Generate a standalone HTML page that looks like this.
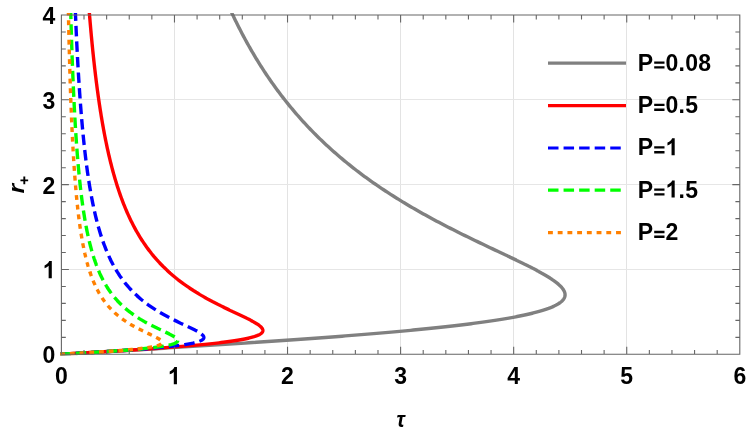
<!DOCTYPE html>
<html><head><meta charset="utf-8"><title>plot</title>
<style>
html,body{margin:0;padding:0;background:#fff;}
body{width:747px;height:434px;overflow:hidden;font-family:"Liberation Sans",sans-serif;}
svg{display:block;will-change:transform}
text{font-family:"Liberation Sans",sans-serif;font-weight:bold;fill:#000}
</style></head><body>
<svg width="747" height="434" viewBox="0 0 747 434">
<rect width="747" height="434" fill="#fff"/>
<defs><clipPath id="c"><rect x="59.9" y="13.1" width="681.4" height="342.1"/></clipPath></defs>

<path d="M174.5 15.0V354.3M287.5 15.0V354.3M400.5 15.0V354.3M513.5 15.0V354.3M626.5 15.0V354.3" stroke="#e3e3e3" stroke-width="1" fill="none"/>
<path d="M61.4 269.5H739.8M61.4 184.5H739.8M61.4 99.5H739.8" stroke="#e6e6e6" stroke-width="1" fill="none"/>
<g clip-path="url(#c)" fill="none" stroke-width="3.4" stroke-linejoin="round">
<path d="M60.18,354.37 L61.40,354.30 L65.72,354.04 L70.04,353.79 L74.35,353.53 L78.67,353.28 L82.98,353.02 L87.29,352.77 L91.60,352.51 L95.91,352.26 L100.21,352.00 L104.51,351.75 L108.80,351.49 L113.09,351.24 L117.37,350.98 L121.64,350.73 L125.91,350.47 L130.17,350.22 L134.43,349.96 L138.67,349.71 L142.91,349.45 L147.14,349.20 L151.36,348.94 L155.57,348.69 L159.77,348.43 L163.96,348.18 L168.14,347.92 L172.30,347.67 L176.46,347.41 L180.60,347.16 L184.73,346.90 L188.85,346.65 L192.95,346.39 L197.04,346.14 L201.12,345.88 L205.18,345.63 L209.22,345.37 L213.25,345.12 L217.26,344.86 L221.26,344.61 L225.24,344.35 L229.21,344.10 L233.15,343.84 L237.08,343.59 L240.99,343.33 L244.89,343.08 L248.76,342.82 L252.62,342.56 L256.45,342.31 L260.27,342.05 L264.07,341.80 L267.84,341.54 L271.60,341.29 L275.33,341.03 L279.05,340.78 L282.74,340.52 L286.41,340.27 L290.06,340.01 L293.69,339.76 L297.29,339.50 L300.87,339.25 L304.43,338.99 L307.97,338.74 L311.48,338.48 L314.97,338.23 L318.44,337.97 L321.88,337.72 L325.30,337.46 L328.69,337.21 L332.06,336.95 L335.40,336.70 L338.72,336.44 L342.02,336.19 L345.29,335.93 L348.53,335.68 L351.75,335.42 L354.94,335.17 L358.11,334.91 L361.25,334.66 L364.37,334.40 L367.46,334.15 L370.52,333.89 L373.56,333.64 L376.57,333.38 L379.56,333.13 L382.51,332.87 L385.45,332.62 L388.35,332.36 L391.23,332.11 L394.08,331.85 L396.91,331.59 L399.70,331.34 L402.48,331.08 L405.22,330.83 L407.94,330.57 L410.63,330.32 L413.29,330.06 L415.93,329.81 L418.54,329.55 L421.12,329.30 L423.68,329.04 L426.21,328.79 L428.71,328.53 L431.18,328.28 L433.63,328.02 L436.05,327.77 L438.45,327.51 L440.81,327.26 L443.15,327.00 L445.47,326.75 L447.75,326.49 L450.02,326.24 L452.25,325.98 L454.46,325.73 L456.64,325.47 L458.79,325.22 L460.92,324.96 L463.02,324.71 L465.10,324.45 L467.15,324.20 L469.17,323.94 L471.17,323.69 L473.15,323.43 L475.09,323.18 L477.01,322.92 L478.91,322.67 L480.78,322.41 L482.63,322.16 L484.45,321.90 L486.24,321.65 L488.01,321.39 L489.76,321.14 L491.48,320.88 L493.17,320.63 L494.85,320.37 L496.49,320.11 L498.12,319.86 L499.72,319.60 L501.29,319.35 L502.85,319.09 L504.37,318.84 L505.88,318.58 L507.36,318.33 L508.82,318.07 L510.25,317.82 L511.67,317.56 L513.06,317.31 L514.42,317.05 L515.77,316.80 L517.09,316.54 L518.39,316.29 L519.67,316.03 L520.93,315.78 L522.16,315.52 L523.38,315.27 L524.57,315.01 L525.74,314.76 L526.89,314.50 L528.02,314.25 L529.13,313.99 L530.21,313.74 L531.28,313.48 L532.33,313.23 L533.36,312.97 L534.36,312.72 L535.35,312.46 L536.32,312.21 L537.27,311.95 L538.20,311.70 L539.11,311.44 L540.00,311.19 L540.87,310.93 L541.73,310.68 L542.56,310.42 L543.38,310.17 L544.18,309.91 L544.96,309.66 L545.73,309.40 L546.47,309.15 L547.20,308.89 L547.91,308.63 L548.61,308.38 L549.29,308.12 L549.95,307.87 L550.59,307.61 L551.22,307.36 L551.83,307.10 L552.43,306.85 L553.01,306.59 L553.57,306.34 L554.12,306.08 L554.65,305.83 L555.17,305.57 L555.67,305.32 L556.16,305.06 L556.63,304.81 L557.09,304.55 L557.53,304.30 L557.96,304.04 L558.38,303.79 L558.78,303.53 L559.16,303.28 L559.54,303.02 L559.90,302.77 L560.24,302.51 L560.58,302.26 L560.89,302.00 L561.20,301.75 L561.49,301.49 L561.78,301.24 L562.04,300.98 L562.30,300.73 L562.54,300.47 L562.77,300.22 L562.99,299.96 L563.20,299.71 L563.40,299.45 L563.58,299.20 L563.75,298.94 L563.91,298.69 L564.06,298.43 L564.20,298.18 L564.33,297.92 L564.45,297.66 L564.56,297.41 L564.65,297.15 L564.74,296.90 L564.81,296.64 L564.88,296.39 L564.93,296.13 L564.98,295.88 L565.02,295.62 L565.04,295.37 L565.06,295.11 L565.06,294.86 L565.06,294.60 L565.05,294.35 L565.03,294.09 L565.00,293.84 L564.96,293.58 L564.92,293.33 L564.86,293.07 L564.80,292.82 L564.72,292.56 L564.64,292.31 L564.55,292.05 L564.46,291.80 L564.35,291.54 L564.24,291.29 L564.12,291.03 L563.99,290.78 L563.86,290.52 L563.71,290.27 L563.56,290.01 L563.41,289.76 L563.24,289.50 L563.07,289.25 L562.89,288.99 L562.71,288.74 L562.52,288.48 L562.32,288.23 L562.11,287.97 L561.90,287.72 L561.68,287.46 L561.46,287.21 L561.23,286.95 L560.99,286.70 L560.75,286.44 L560.50,286.18 L560.25,285.93 L559.99,285.67 L559.72,285.42 L559.45,285.16 L559.18,284.91 L558.89,284.65 L558.61,284.40 L558.32,284.14 L558.02,283.89 L557.72,283.63 L557.41,283.38 L557.10,283.12 L556.78,282.87 L556.46,282.61 L556.13,282.36 L555.80,282.10 L555.46,281.85 L555.12,281.59 L554.78,281.34 L554.43,281.08 L554.08,280.83 L553.72,280.57 L553.36,280.32 L552.99,280.06 L552.62,279.81 L552.25,279.55 L551.87,279.30 L551.49,279.04 L551.10,278.79 L550.72,278.53 L550.32,278.28 L549.93,278.02 L549.53,277.77 L549.13,277.51 L548.72,277.26 L548.31,277.00 L547.90,276.75 L547.48,276.49 L547.06,276.24 L546.64,275.98 L546.22,275.73 L545.79,275.47 L545.36,275.22 L544.92,274.96 L544.49,274.70 L544.05,274.45 L543.60,274.19 L543.16,273.94 L542.71,273.68 L542.26,273.43 L541.81,273.17 L541.35,272.92 L540.90,272.66 L540.44,272.41 L539.97,272.15 L539.51,271.90 L539.04,271.64 L538.58,271.39 L538.10,271.13 L537.63,270.88 L537.16,270.62 L536.68,270.37 L536.20,270.11 L535.72,269.86 L535.24,269.60 L534.75,269.35 L534.26,269.09 L533.78,268.84 L533.29,268.58 L532.79,268.33 L532.30,268.07 L531.81,267.82 L531.31,267.56 L530.81,267.31 L530.31,267.05 L529.81,266.80 L529.31,266.54 L528.80,266.29 L528.30,266.03 L527.79,265.78 L527.28,265.52 L526.77,265.27 L526.26,265.01 L525.75,264.76 L525.24,264.50 L524.72,264.25 L524.21,263.99 L523.69,263.73 L523.17,263.48 L522.66,263.22 L522.14,262.97 L521.62,262.71 L521.10,262.46 L520.57,262.20 L520.05,261.95 L519.53,261.69 L519.00,261.44 L518.48,261.18 L517.95,260.93 L517.42,260.67 L516.89,260.42 L516.37,260.16 L515.84,259.91 L515.31,259.65 L514.78,259.40 L514.24,259.14 L513.71,258.89 L513.18,258.63 L512.65,258.38 L512.11,258.12 L511.58,257.87 L511.05,257.61 L510.51,257.36 L509.98,257.10 L509.44,256.85 L508.90,256.59 L508.37,256.34 L507.83,256.08 L507.29,255.83 L506.76,255.57 L506.22,255.32 L505.68,255.06 L505.14,254.81 L504.61,254.55 L504.07,254.30 L503.53,254.04 L502.99,253.79 L502.45,253.53 L501.91,253.28 L501.37,253.02 L500.83,252.77 L500.29,252.51 L497.74,251.30 L495.19,250.10 L492.64,248.89 L490.09,247.68 L487.54,246.48 L485.01,245.27 L482.47,244.07 L479.95,242.86 L477.43,241.65 L474.93,240.45 L472.43,239.24 L469.95,238.03 L467.47,236.83 L465.01,235.62 L462.57,234.42 L460.13,233.21 L457.71,232.00 L455.31,230.80 L452.92,229.59 L450.54,228.38 L448.18,227.18 L445.84,225.97 L443.51,224.76 L441.20,223.56 L438.91,222.35 L436.64,221.15 L434.38,219.94 L432.13,218.73 L429.91,217.53 L427.70,216.32 L425.51,215.11 L423.34,213.91 L421.19,212.70 L419.05,211.50 L416.93,210.29 L414.83,209.08 L412.75,207.88 L410.69,206.67 L408.64,205.46 L406.61,204.26 L404.60,203.05 L402.60,201.85 L400.62,200.64 L398.67,199.43 L396.72,198.23 L394.80,197.02 L392.89,195.81 L391.00,194.61 L389.12,193.40 L387.27,192.19 L385.43,190.99 L383.60,189.78 L381.79,188.58 L380.00,187.37 L378.23,186.16 L376.47,184.96 L374.73,183.75 L373.00,182.54 L371.29,181.34 L369.59,180.13 L367.91,178.93 L366.24,177.72 L364.59,176.51 L362.96,175.31 L361.34,174.10 L359.73,172.89 L358.14,171.69 L356.57,170.48 L355.00,169.27 L353.45,168.07 L351.92,166.86 L350.40,165.66 L348.89,164.45 L347.40,163.24 L345.92,162.04 L344.45,160.83 L343.00,159.62 L341.56,158.42 L340.13,157.21 L338.72,156.01 L337.32,154.80 L335.93,153.59 L334.55,152.39 L333.18,151.18 L331.83,149.97 L330.49,148.77 L329.16,147.56 L327.84,146.36 L326.54,145.15 L325.24,143.94 L323.96,142.74 L322.69,141.53 L321.43,140.32 L320.18,139.12 L318.94,137.91 L317.71,136.70 L316.49,135.50 L315.28,134.29 L314.09,133.09 L312.90,131.88 L311.72,130.67 L310.56,129.47 L309.40,128.26 L308.25,127.05 L307.12,125.85 L305.99,124.64 L304.87,123.44 L303.76,122.23 L302.66,121.02 L301.57,119.82 L300.49,118.61 L299.42,117.40 L298.35,116.20 L297.30,114.99 L296.25,113.78 L295.21,112.58 L294.18,111.37 L293.16,110.17 L292.15,108.96 L291.15,107.75 L290.15,106.55 L289.16,105.34 L288.18,104.13 L287.21,102.93 L286.24,101.72 L285.29,100.52 L284.34,99.31 L283.40,98.10 L282.46,96.90 L281.53,95.69 L280.61,94.48 L279.70,93.28 L278.80,92.07 L277.90,90.87 L277.01,89.66 L276.12,88.45 L275.24,87.25 L274.37,86.04 L273.51,84.83 L272.65,83.63 L271.80,82.42 L270.95,81.21 L270.11,80.01 L269.28,78.80 L268.46,77.60 L267.64,76.39 L266.82,75.18 L266.01,73.98 L265.21,72.77 L264.42,71.56 L263.63,70.36 L262.84,69.15 L262.07,67.95 L261.29,66.74 L260.53,65.53 L259.77,64.33 L259.01,63.12 L258.26,61.91 L257.51,60.71 L256.77,59.50 L256.04,58.29 L255.31,57.09 L254.59,55.88 L253.87,54.68 L253.16,53.47 L252.45,52.26 L251.74,51.06 L251.04,49.85 L250.35,48.64 L249.66,47.44 L248.98,46.23 L248.30,45.03 L247.62,43.82 L246.95,42.61 L246.29,41.41 L245.63,40.20 L244.97,38.99 L244.32,37.79 L243.67,36.58 L243.03,35.38 L242.39,34.17 L241.76,32.96 L241.13,31.76 L240.50,30.55 L239.88,29.34 L239.26,28.14 L238.65,26.93 L238.04,25.72 L237.43,24.52 L236.83,23.31 L236.24,22.11 L235.64,20.90 L235.05,19.69 L234.47,18.49 L233.88,17.28 L233.31,16.07 L232.73,14.87 L232.16,13.66 L231.59,12.46" stroke="#808080"/>
<path d="M60.18,354.37 L61.40,354.30 L65.72,354.04 L70.03,353.79 L74.34,353.53 L78.64,353.28 L82.93,353.02 L87.20,352.77 L91.46,352.51 L95.70,352.26 L99.91,352.00 L104.09,351.75 L108.25,351.49 L112.38,351.24 L116.47,350.98 L120.53,350.73 L124.55,350.47 L128.52,350.22 L132.46,349.96 L136.34,349.71 L140.19,349.45 L143.98,349.20 L147.72,348.94 L151.40,348.69 L155.04,348.43 L158.61,348.18 L162.13,347.92 L165.59,347.67 L168.99,347.41 L172.33,347.16 L175.60,346.90 L178.82,346.65 L181.97,346.39 L185.05,346.14 L188.07,345.88 L191.02,345.63 L193.90,345.37 L196.72,345.12 L199.47,344.86 L202.16,344.61 L204.77,344.35 L207.32,344.10 L209.80,343.84 L212.22,343.59 L214.57,343.33 L216.85,343.08 L219.06,342.82 L221.21,342.56 L223.29,342.31 L225.31,342.05 L227.26,341.80 L229.15,341.54 L230.98,341.29 L232.74,341.03 L234.45,340.78 L236.09,340.52 L237.67,340.27 L239.19,340.01 L240.66,339.76 L242.06,339.50 L243.41,339.25 L244.71,338.99 L245.95,338.74 L247.14,338.48 L248.27,338.23 L249.35,337.97 L250.38,337.72 L251.37,337.46 L252.30,337.21 L253.19,336.95 L254.03,336.70 L254.83,336.44 L255.58,336.19 L256.28,335.93 L256.95,335.68 L257.57,335.42 L258.16,335.17 L258.70,334.91 L259.21,334.66 L259.68,334.40 L260.11,334.15 L260.51,333.89 L260.87,333.64 L261.20,333.38 L261.49,333.13 L261.76,332.87 L261.99,332.62 L262.20,332.36 L262.37,332.11 L262.52,331.85 L262.64,331.59 L262.74,331.34 L262.80,331.08 L262.85,330.83 L262.86,330.57 L262.86,330.32 L262.83,330.06 L262.78,329.81 L262.71,329.55 L262.62,329.30 L262.51,329.04 L262.38,328.79 L262.23,328.53 L262.07,328.28 L261.89,328.02 L261.68,327.77 L261.47,327.51 L261.24,327.26 L260.99,327.00 L260.73,326.75 L260.45,326.49 L260.17,326.24 L259.87,325.98 L259.55,325.73 L259.23,325.47 L258.89,325.22 L258.54,324.96 L258.18,324.71 L257.81,324.45 L257.44,324.20 L257.05,323.94 L256.65,323.69 L256.25,323.43 L255.83,323.18 L255.41,322.92 L254.98,322.67 L254.55,322.41 L254.10,322.16 L253.65,321.90 L253.20,321.65 L252.74,321.39 L252.27,321.14 L251.80,320.88 L251.32,320.63 L250.84,320.37 L250.35,320.11 L249.86,319.86 L249.36,319.60 L248.86,319.35 L248.36,319.09 L247.85,318.84 L247.35,318.58 L246.83,318.33 L246.32,318.07 L245.80,317.82 L245.28,317.56 L244.76,317.31 L244.23,317.05 L243.70,316.80 L243.17,316.54 L242.64,316.29 L242.11,316.03 L241.58,315.78 L241.04,315.52 L240.51,315.27 L239.97,315.01 L239.44,314.76 L238.90,314.50 L238.36,314.25 L237.82,313.99 L237.28,313.74 L236.74,313.48 L236.20,313.23 L235.66,312.97 L235.12,312.72 L234.58,312.46 L234.04,312.21 L233.50,311.95 L232.96,311.70 L232.43,311.44 L231.89,311.19 L231.35,310.93 L230.81,310.68 L230.28,310.42 L229.74,310.17 L229.21,309.91 L228.68,309.66 L228.14,309.40 L227.61,309.15 L227.08,308.89 L226.55,308.63 L226.03,308.38 L225.50,308.12 L224.97,307.87 L224.45,307.61 L223.93,307.36 L223.41,307.10 L222.89,306.85 L222.37,306.59 L221.85,306.34 L221.34,306.08 L220.82,305.83 L220.31,305.57 L219.80,305.32 L219.29,305.06 L218.78,304.81 L218.28,304.55 L217.77,304.30 L217.27,304.04 L216.77,303.79 L216.27,303.53 L215.78,303.28 L215.28,303.02 L214.79,302.77 L214.30,302.51 L213.81,302.26 L213.32,302.00 L212.83,301.75 L212.35,301.49 L211.87,301.24 L211.39,300.98 L210.91,300.73 L210.43,300.47 L209.96,300.22 L209.49,299.96 L209.02,299.71 L208.55,299.45 L208.08,299.20 L207.62,298.94 L207.15,298.69 L206.69,298.43 L206.23,298.18 L205.78,297.92 L205.32,297.66 L204.87,297.41 L204.42,297.15 L203.97,296.90 L203.52,296.64 L203.08,296.39 L202.64,296.13 L202.20,295.88 L201.76,295.62 L201.32,295.37 L200.89,295.11 L200.45,294.86 L200.02,294.60 L199.59,294.35 L199.17,294.09 L198.74,293.84 L198.32,293.58 L197.90,293.33 L197.48,293.07 L197.06,292.82 L196.65,292.56 L196.23,292.31 L195.82,292.05 L195.41,291.80 L195.00,291.54 L194.60,291.29 L194.20,291.03 L193.79,290.78 L193.39,290.52 L193.00,290.27 L192.60,290.01 L192.21,289.76 L191.81,289.50 L191.42,289.25 L191.03,288.99 L190.65,288.74 L190.26,288.48 L189.88,288.23 L189.50,287.97 L189.12,287.72 L188.74,287.46 L188.37,287.21 L187.99,286.95 L187.62,286.70 L187.25,286.44 L186.88,286.18 L186.51,285.93 L186.15,285.67 L185.79,285.42 L185.42,285.16 L185.06,284.91 L184.71,284.65 L184.35,284.40 L184.00,284.14 L183.64,283.89 L183.29,283.63 L182.94,283.38 L182.59,283.12 L182.25,282.87 L181.90,282.61 L181.56,282.36 L181.22,282.10 L180.88,281.85 L180.54,281.59 L180.21,281.34 L179.87,281.08 L179.54,280.83 L179.21,280.57 L178.88,280.32 L178.55,280.06 L178.22,279.81 L177.90,279.55 L177.57,279.30 L177.25,279.04 L176.93,278.79 L176.61,278.53 L176.29,278.28 L175.98,278.02 L175.66,277.77 L175.35,277.51 L175.04,277.26 L174.73,277.00 L174.42,276.75 L174.11,276.49 L173.81,276.24 L173.50,275.98 L173.20,275.73 L172.90,275.47 L172.60,275.22 L172.30,274.96 L172.00,274.70 L171.71,274.45 L171.41,274.19 L171.12,273.94 L170.83,273.68 L170.54,273.43 L170.25,273.17 L169.96,272.92 L169.68,272.66 L169.39,272.41 L169.11,272.15 L168.83,271.90 L168.55,271.64 L168.27,271.39 L167.99,271.13 L167.71,270.88 L167.44,270.62 L167.16,270.37 L166.89,270.11 L166.62,269.86 L166.35,269.60 L166.08,269.35 L165.81,269.09 L165.54,268.84 L165.28,268.58 L165.01,268.33 L164.75,268.07 L164.49,267.82 L164.23,267.56 L163.97,267.31 L163.71,267.05 L163.45,266.80 L163.20,266.54 L162.94,266.29 L162.69,266.03 L162.44,265.78 L162.19,265.52 L161.94,265.27 L161.69,265.01 L161.44,264.76 L161.19,264.50 L160.95,264.25 L160.70,263.99 L160.46,263.73 L160.22,263.48 L159.97,263.22 L159.73,262.97 L159.49,262.71 L159.26,262.46 L159.02,262.20 L158.78,261.95 L158.55,261.69 L158.31,261.44 L158.08,261.18 L157.85,260.93 L157.62,260.67 L157.39,260.42 L157.16,260.16 L156.93,259.91 L156.71,259.65 L156.48,259.40 L156.25,259.14 L156.03,258.89 L155.81,258.63 L155.59,258.38 L155.37,258.12 L155.15,257.87 L154.93,257.61 L154.71,257.36 L154.49,257.10 L154.27,256.85 L154.06,256.59 L153.85,256.34 L153.63,256.08 L153.42,255.83 L153.21,255.57 L153.00,255.32 L152.79,255.06 L152.58,254.81 L152.37,254.55 L152.16,254.30 L151.96,254.04 L151.75,253.79 L151.55,253.53 L151.34,253.28 L151.14,253.02 L150.94,252.77 L150.74,252.51 L149.80,251.30 L148.88,250.10 L147.97,248.89 L147.09,247.68 L146.22,246.48 L145.37,245.27 L144.53,244.07 L143.71,242.86 L142.90,241.65 L142.11,240.45 L141.33,239.24 L140.57,238.03 L139.82,236.83 L139.09,235.62 L138.37,234.42 L137.66,233.21 L136.96,232.00 L136.28,230.80 L135.60,229.59 L134.94,228.38 L134.29,227.18 L133.65,225.97 L133.02,224.76 L132.40,223.56 L131.80,222.35 L131.20,221.15 L130.61,219.94 L130.03,218.73 L129.46,217.53 L128.90,216.32 L128.35,215.11 L127.81,213.91 L127.27,212.70 L126.75,211.50 L126.23,210.29 L125.72,209.08 L125.21,207.88 L124.72,206.67 L124.23,205.46 L123.75,204.26 L123.28,203.05 L122.81,201.85 L122.35,200.64 L121.90,199.43 L121.45,198.23 L121.01,197.02 L120.58,195.81 L120.15,194.61 L119.73,193.40 L119.32,192.19 L118.91,190.99 L118.50,189.78 L118.10,188.58 L117.71,187.37 L117.32,186.16 L116.94,184.96 L116.56,183.75 L116.19,182.54 L115.82,181.34 L115.46,180.13 L115.10,178.93 L114.75,177.72 L114.40,176.51 L114.05,175.31 L113.71,174.10 L113.37,172.89 L113.04,171.69 L112.72,170.48 L112.39,169.27 L112.07,168.07 L111.76,166.86 L111.44,165.66 L111.14,164.45 L110.83,163.24 L110.53,162.04 L110.23,160.83 L109.94,159.62 L109.65,158.42 L109.36,157.21 L109.08,156.01 L108.80,154.80 L108.52,153.59 L108.25,152.39 L107.98,151.18 L107.71,149.97 L107.45,148.77 L107.18,147.56 L106.93,146.36 L106.67,145.15 L106.42,143.94 L106.17,142.74 L105.92,141.53 L105.67,140.32 L105.43,139.12 L105.19,137.91 L104.96,136.70 L104.72,135.50 L104.49,134.29 L104.26,133.09 L104.03,131.88 L103.81,130.67 L103.58,129.47 L103.36,128.26 L103.15,127.05 L102.93,125.85 L102.72,124.64 L102.51,123.44 L102.30,122.23 L102.09,121.02 L101.88,119.82 L101.68,118.61 L101.48,117.40 L101.28,116.20 L101.08,114.99 L100.89,113.78 L100.70,112.58 L100.50,111.37 L100.32,110.17 L100.13,108.96 L99.94,107.75 L99.76,106.55 L99.57,105.34 L99.39,104.13 L99.22,102.93 L99.04,101.72 L98.86,100.52 L98.69,99.31 L98.52,98.10 L98.34,96.90 L98.17,95.69 L98.01,94.48 L97.84,93.28 L97.68,92.07 L97.51,90.87 L97.35,89.66 L97.19,88.45 L97.03,87.25 L96.87,86.04 L96.72,84.83 L96.56,83.63 L96.41,82.42 L96.26,81.21 L96.10,80.01 L95.95,78.80 L95.81,77.60 L95.66,76.39 L95.51,75.18 L95.37,73.98 L95.23,72.77 L95.08,71.56 L94.94,70.36 L94.80,69.15 L94.66,67.95 L94.53,66.74 L94.39,65.53 L94.25,64.33 L94.12,63.12 L93.99,61.91 L93.85,60.71 L93.72,59.50 L93.59,58.29 L93.46,57.09 L93.34,55.88 L93.21,54.68 L93.08,53.47 L92.96,52.26 L92.83,51.06 L92.71,49.85 L92.59,48.64 L92.47,47.44 L92.35,46.23 L92.23,45.03 L92.11,43.82 L91.99,42.61 L91.88,41.41 L91.76,40.20 L91.65,38.99 L91.53,37.79 L91.42,36.58 L91.31,35.38 L91.19,34.17 L91.08,32.96 L90.97,31.76 L90.87,30.55 L90.76,29.34 L90.65,28.14 L90.54,26.93 L90.44,25.72 L90.33,24.52 L90.23,23.31 L90.12,22.11 L90.02,20.90 L89.92,19.69 L89.82,18.49 L89.72,17.28 L89.62,16.07 L89.52,14.87 L89.42,13.66 L89.32,12.46" stroke="#ff0000"/>
<path d="M60.18,354.37 L61.40,354.30 L65.72,354.04 L70.03,353.79 L74.33,353.53 L78.61,353.28 L82.87,353.02 L87.10,352.77 L91.29,352.51 L95.45,352.26 L99.56,352.00 L103.62,351.75 L107.62,351.49 L111.56,351.24 L115.44,350.98 L119.25,350.73 L122.99,350.47 L126.66,350.22 L130.24,349.96 L133.75,349.71 L137.17,349.45 L140.50,349.20 L143.75,348.94 L146.90,348.69 L149.96,348.43 L152.93,348.18 L155.81,347.92 L158.59,347.67 L161.27,347.41 L163.86,347.16 L166.36,346.90 L168.76,346.65 L171.06,346.39 L173.27,346.14 L175.39,345.88 L177.42,345.63 L179.35,345.37 L181.20,345.12 L182.95,344.86 L184.62,344.61 L186.21,344.35 L187.71,344.10 L189.13,343.84 L190.47,343.59 L191.73,343.33 L192.92,343.08 L194.03,342.82 L195.07,342.56 L196.04,342.31 L196.94,342.05 L197.78,341.80 L198.55,341.54 L199.26,341.29 L199.92,341.03 L200.51,340.78 L201.05,340.52 L201.53,340.27 L201.97,340.01 L202.35,339.76 L202.68,339.50 L202.97,339.25 L203.22,338.99 L203.42,338.74 L203.58,338.48 L203.71,338.23 L203.79,337.97 L203.84,337.72 L203.86,337.46 L203.84,337.21 L203.79,336.95 L203.71,336.70 L203.61,336.44 L203.48,336.19 L203.32,335.93 L203.13,335.68 L202.92,335.42 L202.70,335.17 L202.44,334.91 L202.17,334.66 L201.88,334.40 L201.58,334.15 L201.25,333.89 L200.91,333.64 L200.56,333.38 L200.18,333.13 L199.80,332.87 L199.40,332.62 L199.00,332.36 L198.58,332.11 L198.15,331.85 L197.70,331.59 L197.25,331.34 L196.80,331.08 L196.33,330.83 L195.86,330.57 L195.37,330.32 L194.89,330.06 L194.39,329.81 L193.89,329.55 L193.39,329.30 L192.88,329.04 L192.37,328.79 L191.85,328.53 L191.33,328.28 L190.81,328.02 L190.28,327.77 L189.75,327.51 L189.22,327.26 L188.68,327.00 L188.15,326.75 L187.61,326.49 L187.08,326.24 L186.54,325.98 L186.00,325.73 L185.46,325.47 L184.92,325.22 L184.38,324.96 L183.84,324.71 L183.30,324.45 L182.76,324.20 L182.22,323.94 L181.69,323.69 L181.15,323.43 L180.61,323.18 L180.08,322.92 L179.55,322.67 L179.01,322.41 L178.48,322.16 L177.96,321.90 L177.43,321.65 L176.90,321.39 L176.38,321.14 L175.86,320.88 L175.34,320.63 L174.82,320.37 L174.31,320.11 L173.80,319.86 L173.29,319.60 L172.78,319.35 L172.27,319.09 L171.77,318.84 L171.27,318.58 L170.77,318.33 L170.27,318.07 L169.78,317.82 L169.29,317.56 L168.80,317.31 L168.32,317.05 L167.83,316.80 L167.35,316.54 L166.88,316.29 L166.40,316.03 L165.93,315.78 L165.46,315.52 L165.00,315.27 L164.53,315.01 L164.07,314.76 L163.61,314.50 L163.16,314.25 L162.71,313.99 L162.26,313.74 L161.81,313.48 L161.37,313.23 L160.93,312.97 L160.49,312.72 L160.05,312.46 L159.62,312.21 L159.19,311.95 L158.76,311.70 L158.34,311.44 L157.92,311.19 L157.50,310.93 L157.08,310.68 L156.67,310.42 L156.26,310.17 L155.85,309.91 L155.45,309.66 L155.04,309.40 L154.64,309.15 L154.25,308.89 L153.85,308.63 L153.46,308.38 L153.07,308.12 L152.69,307.87 L152.30,307.61 L151.92,307.36 L151.54,307.10 L151.17,306.85 L150.79,306.59 L150.42,306.34 L150.05,306.08 L149.69,305.83 L149.32,305.57 L148.96,305.32 L148.61,305.06 L148.25,304.81 L147.90,304.55 L147.54,304.30 L147.20,304.04 L146.85,303.79 L146.50,303.53 L146.16,303.28 L145.82,303.02 L145.49,302.77 L145.15,302.51 L144.82,302.26 L144.49,302.00 L144.16,301.75 L143.83,301.49 L143.51,301.24 L143.19,300.98 L142.87,300.73 L142.55,300.47 L142.24,300.22 L141.92,299.96 L141.61,299.71 L141.31,299.45 L141.00,299.20 L140.69,298.94 L140.39,298.69 L140.09,298.43 L139.79,298.18 L139.50,297.92 L139.20,297.66 L138.91,297.41 L138.62,297.15 L138.33,296.90 L138.04,296.64 L137.76,296.39 L137.47,296.13 L137.19,295.88 L136.91,295.62 L136.64,295.37 L136.36,295.11 L136.09,294.86 L135.82,294.60 L135.54,294.35 L135.28,294.09 L135.01,293.84 L134.74,293.58 L134.48,293.33 L134.22,293.07 L133.96,292.82 L133.70,292.56 L133.44,292.31 L133.19,292.05 L132.94,291.80 L132.68,291.54 L132.43,291.29 L132.19,291.03 L131.94,290.78 L131.69,290.52 L131.45,290.27 L131.21,290.01 L130.97,289.76 L130.73,289.50 L130.49,289.25 L130.25,288.99 L130.02,288.74 L129.79,288.48 L129.55,288.23 L129.32,287.97 L129.09,287.72 L128.87,287.46 L128.64,287.21 L128.42,286.95 L128.19,286.70 L127.97,286.44 L127.75,286.18 L127.53,285.93 L127.31,285.67 L127.10,285.42 L126.88,285.16 L126.67,284.91 L126.46,284.65 L126.24,284.40 L126.03,284.14 L125.83,283.89 L125.62,283.63 L125.41,283.38 L125.21,283.12 L125.00,282.87 L124.80,282.61 L124.60,282.36 L124.40,282.10 L124.20,281.85 L124.00,281.59 L123.80,281.34 L123.61,281.08 L123.41,280.83 L123.22,280.57 L123.03,280.32 L122.84,280.06 L122.65,279.81 L122.46,279.55 L122.27,279.30 L122.08,279.04 L121.90,278.79 L121.71,278.53 L121.53,278.28 L121.35,278.02 L121.17,277.77 L120.99,277.51 L120.81,277.26 L120.63,277.00 L120.45,276.75 L120.28,276.49 L120.10,276.24 L119.93,275.98 L119.75,275.73 L119.58,275.47 L119.41,275.22 L119.24,274.96 L119.07,274.70 L118.90,274.45 L118.73,274.19 L118.57,273.94 L118.40,273.68 L118.24,273.43 L118.07,273.17 L117.91,272.92 L117.75,272.66 L117.59,272.41 L117.42,272.15 L117.27,271.90 L117.11,271.64 L116.95,271.39 L116.79,271.13 L116.64,270.88 L116.48,270.62 L116.33,270.37 L116.17,270.11 L116.02,269.86 L115.87,269.60 L115.72,269.35 L115.57,269.09 L115.42,268.84 L115.27,268.58 L115.12,268.33 L114.97,268.07 L114.83,267.82 L114.68,267.56 L114.54,267.31 L114.39,267.05 L114.25,266.80 L114.10,266.54 L113.96,266.29 L113.82,266.03 L113.68,265.78 L113.54,265.52 L113.40,265.27 L113.26,265.01 L113.13,264.76 L112.99,264.50 L112.85,264.25 L112.72,263.99 L112.58,263.73 L112.45,263.48 L112.31,263.22 L112.18,262.97 L112.05,262.71 L111.92,262.46 L111.79,262.20 L111.66,261.95 L111.53,261.69 L111.40,261.44 L111.27,261.18 L111.14,260.93 L111.02,260.67 L110.89,260.42 L110.76,260.16 L110.64,259.91 L110.51,259.65 L110.39,259.40 L110.27,259.14 L110.14,258.89 L110.02,258.63 L109.90,258.38 L109.78,258.12 L109.66,257.87 L109.54,257.61 L109.42,257.36 L109.30,257.10 L109.18,256.85 L109.06,256.59 L108.95,256.34 L108.83,256.08 L108.72,255.83 L108.60,255.57 L108.49,255.32 L108.37,255.06 L108.26,254.81 L108.14,254.55 L108.03,254.30 L107.92,254.04 L107.81,253.79 L107.70,253.53 L107.59,253.28 L107.48,253.02 L107.37,252.77 L107.26,252.51 L106.75,251.30 L106.25,250.10 L105.76,248.89 L105.29,247.68 L104.82,246.48 L104.36,245.27 L103.91,244.07 L103.47,242.86 L103.04,241.65 L102.62,240.45 L102.20,239.24 L101.80,238.03 L101.40,236.83 L101.01,235.62 L100.63,234.42 L100.25,233.21 L99.88,232.00 L99.52,230.80 L99.16,229.59 L98.82,228.38 L98.47,227.18 L98.14,225.97 L97.81,224.76 L97.48,223.56 L97.16,222.35 L96.85,221.15 L96.54,219.94 L96.24,218.73 L95.94,217.53 L95.65,216.32 L95.36,215.11 L95.07,213.91 L94.79,212.70 L94.52,211.50 L94.25,210.29 L93.98,209.08 L93.72,207.88 L93.47,206.67 L93.21,205.46 L92.96,204.26 L92.72,203.05 L92.48,201.85 L92.24,200.64 L92.00,199.43 L91.77,198.23 L91.54,197.02 L91.32,195.81 L91.10,194.61 L90.88,193.40 L90.67,192.19 L90.46,190.99 L90.25,189.78 L90.04,188.58 L89.84,187.37 L89.64,186.16 L89.44,184.96 L89.25,183.75 L89.05,182.54 L88.87,181.34 L88.68,180.13 L88.49,178.93 L88.31,177.72 L88.13,176.51 L87.96,175.31 L87.78,174.10 L87.61,172.89 L87.44,171.69 L87.27,170.48 L87.11,169.27 L86.94,168.07 L86.78,166.86 L86.62,165.66 L86.46,164.45 L86.31,163.24 L86.15,162.04 L86.00,160.83 L85.85,159.62 L85.70,158.42 L85.56,157.21 L85.41,156.01 L85.27,154.80 L85.13,153.59 L84.99,152.39 L84.85,151.18 L84.71,149.97 L84.58,148.77 L84.44,147.56 L84.31,146.36 L84.18,145.15 L84.05,143.94 L83.92,142.74 L83.80,141.53 L83.67,140.32 L83.55,139.12 L83.43,137.91 L83.31,136.70 L83.19,135.50 L83.07,134.29 L82.95,133.09 L82.84,131.88 L82.72,130.67 L82.61,129.47 L82.50,128.26 L82.39,127.05 L82.28,125.85 L82.17,124.64 L82.06,123.44 L81.96,122.23 L81.85,121.02 L81.75,119.82 L81.64,118.61 L81.54,117.40 L81.44,116.20 L81.34,114.99 L81.24,113.78 L81.14,112.58 L81.05,111.37 L80.95,110.17 L80.85,108.96 L80.76,107.75 L80.67,106.55 L80.57,105.34 L80.48,104.13 L80.39,102.93 L80.30,101.72 L80.21,100.52 L80.12,99.31 L80.04,98.10 L79.95,96.90 L79.86,95.69 L79.78,94.48 L79.70,93.28 L79.61,92.07 L79.53,90.87 L79.45,89.66 L79.37,88.45 L79.29,87.25 L79.21,86.04 L79.13,84.83 L79.05,83.63 L78.97,82.42 L78.89,81.21 L78.82,80.01 L78.74,78.80 L78.67,77.60 L78.59,76.39 L78.52,75.18 L78.45,73.98 L78.37,72.77 L78.30,71.56 L78.23,70.36 L78.16,69.15 L78.09,67.95 L78.02,66.74 L77.95,65.53 L77.88,64.33 L77.81,63.12 L77.75,61.91 L77.68,60.71 L77.61,59.50 L77.55,58.29 L77.48,57.09 L77.42,55.88 L77.35,54.68 L77.29,53.47 L77.23,52.26 L77.17,51.06 L77.10,49.85 L77.04,48.64 L76.98,47.44 L76.92,46.23 L76.86,45.03 L76.80,43.82 L76.74,42.61 L76.68,41.41 L76.62,40.20 L76.57,38.99 L76.51,37.79 L76.45,36.58 L76.39,35.38 L76.34,34.17 L76.28,32.96 L76.23,31.76 L76.17,30.55 L76.12,29.34 L76.06,28.14 L76.01,26.93 L75.96,25.72 L75.90,24.52 L75.85,23.31 L75.80,22.11 L75.75,20.90 L75.70,19.69 L75.64,18.49 L75.59,17.28 L75.54,16.07 L75.49,14.87 L75.44,13.66 L75.39,12.46" stroke="#0000ff" stroke-dasharray="10.5 5.06" stroke-dashoffset="0.00"/>
<path d="M60.18,354.37 L61.40,354.30 L65.72,354.04 L70.03,353.79 L74.32,353.53 L78.58,353.28 L82.81,353.02 L86.99,352.77 L91.13,352.51 L95.20,352.26 L99.21,352.00 L103.15,351.75 L107.00,351.49 L110.77,351.24 L114.45,350.98 L118.03,350.73 L121.52,350.47 L124.90,350.22 L128.17,349.96 L131.33,349.71 L134.37,349.45 L137.31,349.20 L140.13,348.94 L142.83,348.69 L145.41,348.43 L147.88,348.18 L150.23,347.92 L152.47,347.67 L154.59,347.41 L156.60,347.16 L158.50,346.90 L160.29,346.65 L161.97,346.39 L163.55,346.14 L165.02,345.88 L166.40,345.63 L167.68,345.37 L168.87,345.12 L169.97,344.86 L170.98,344.61 L171.90,344.35 L172.75,344.10 L173.51,343.84 L174.20,343.59 L174.82,343.33 L175.37,343.08 L175.86,342.82 L176.28,342.56 L176.64,342.31 L176.95,342.05 L177.20,341.80 L177.39,341.54 L177.54,341.29 L177.64,341.03 L177.70,340.78 L177.72,340.52 L177.69,340.27 L177.63,340.01 L177.53,339.76 L177.40,339.50 L177.24,339.25 L177.04,338.99 L176.82,338.74 L176.58,338.48 L176.30,338.23 L176.01,337.97 L175.69,337.72 L175.36,337.46 L175.00,337.21 L174.63,336.95 L174.24,336.70 L173.84,336.44 L173.42,336.19 L172.99,335.93 L172.54,335.68 L172.09,335.42 L171.62,335.17 L171.15,334.91 L170.67,334.66 L170.18,334.40 L169.68,334.15 L169.18,333.89 L168.67,333.64 L168.15,333.38 L167.63,333.13 L167.11,332.87 L166.58,332.62 L166.05,332.36 L165.52,332.11 L164.99,331.85 L164.45,331.59 L163.91,331.34 L163.38,331.08 L162.84,330.83 L162.30,330.57 L161.76,330.32 L161.22,330.06 L160.68,329.81 L160.14,329.55 L159.60,329.30 L159.07,329.04 L158.53,328.79 L158.00,328.53 L157.46,328.28 L156.93,328.02 L156.41,327.77 L155.88,327.51 L155.36,327.26 L154.84,327.00 L154.32,326.75 L153.80,326.49 L153.29,326.24 L152.78,325.98 L152.27,325.73 L151.76,325.47 L151.26,325.22 L150.76,324.96 L150.27,324.71 L149.77,324.45 L149.28,324.20 L148.80,323.94 L148.32,323.69 L147.84,323.43 L147.36,323.18 L146.89,322.92 L146.42,322.67 L145.95,322.41 L145.49,322.16 L145.03,321.90 L144.57,321.65 L144.12,321.39 L143.67,321.14 L143.22,320.88 L142.78,320.63 L142.34,320.37 L141.91,320.11 L141.48,319.86 L141.05,319.60 L140.62,319.35 L140.20,319.09 L139.78,318.84 L139.37,318.58 L138.96,318.33 L138.55,318.07 L138.14,317.82 L137.74,317.56 L137.34,317.31 L136.95,317.05 L136.56,316.80 L136.17,316.54 L135.78,316.29 L135.40,316.03 L135.02,315.78 L134.65,315.52 L134.27,315.27 L133.90,315.01 L133.54,314.76 L133.17,314.50 L132.81,314.25 L132.45,313.99 L132.10,313.74 L131.75,313.48 L131.40,313.23 L131.05,312.97 L130.71,312.72 L130.37,312.46 L130.03,312.21 L129.70,311.95 L129.37,311.70 L129.04,311.44 L128.71,311.19 L128.39,310.93 L128.07,310.68 L127.75,310.42 L127.43,310.17 L127.12,309.91 L126.81,309.66 L126.50,309.40 L126.20,309.15 L125.90,308.89 L125.59,308.63 L125.30,308.38 L125.00,308.12 L124.71,307.87 L124.42,307.61 L124.13,307.36 L123.84,307.10 L123.56,306.85 L123.28,306.59 L123.00,306.34 L122.72,306.08 L122.45,305.83 L122.18,305.57 L121.91,305.32 L121.64,305.06 L121.37,304.81 L121.11,304.55 L120.85,304.30 L120.59,304.04 L120.33,303.79 L120.07,303.53 L119.82,303.28 L119.57,303.02 L119.32,302.77 L119.07,302.51 L118.83,302.26 L118.58,302.00 L118.34,301.75 L118.10,301.49 L117.86,301.24 L117.62,300.98 L117.39,300.73 L117.16,300.47 L116.93,300.22 L116.70,299.96 L116.47,299.71 L116.24,299.45 L116.02,299.20 L115.80,298.94 L115.58,298.69 L115.36,298.43 L115.14,298.18 L114.92,297.92 L114.71,297.66 L114.50,297.41 L114.29,297.15 L114.08,296.90 L113.87,296.64 L113.66,296.39 L113.46,296.13 L113.25,295.88 L113.05,295.62 L112.85,295.37 L112.65,295.11 L112.45,294.86 L112.26,294.60 L112.06,294.35 L111.87,294.09 L111.68,293.84 L111.49,293.58 L111.30,293.33 L111.11,293.07 L110.92,292.82 L110.74,292.56 L110.55,292.31 L110.37,292.05 L110.19,291.80 L110.01,291.54 L109.83,291.29 L109.65,291.03 L109.48,290.78 L109.30,290.52 L109.13,290.27 L108.96,290.01 L108.78,289.76 L108.61,289.50 L108.44,289.25 L108.28,288.99 L108.11,288.74 L107.94,288.48 L107.78,288.23 L107.61,287.97 L107.45,287.72 L107.29,287.46 L107.13,287.21 L106.97,286.95 L106.81,286.70 L106.66,286.44 L106.50,286.18 L106.34,285.93 L106.19,285.67 L106.04,285.42 L105.88,285.16 L105.73,284.91 L105.58,284.65 L105.43,284.40 L105.29,284.14 L105.14,283.89 L104.99,283.63 L104.85,283.38 L104.70,283.12 L104.56,282.87 L104.42,282.61 L104.27,282.36 L104.13,282.10 L103.99,281.85 L103.85,281.59 L103.72,281.34 L103.58,281.08 L103.44,280.83 L103.31,280.57 L103.17,280.32 L103.04,280.06 L102.90,279.81 L102.77,279.55 L102.64,279.30 L102.51,279.04 L102.38,278.79 L102.25,278.53 L102.12,278.28 L101.99,278.02 L101.87,277.77 L101.74,277.51 L101.62,277.26 L101.49,277.00 L101.37,276.75 L101.24,276.49 L101.12,276.24 L101.00,275.98 L100.88,275.73 L100.76,275.47 L100.64,275.22 L100.52,274.96 L100.40,274.70 L100.29,274.45 L100.17,274.19 L100.05,273.94 L99.94,273.68 L99.82,273.43 L99.71,273.17 L99.59,272.92 L99.48,272.66 L99.37,272.41 L99.26,272.15 L99.15,271.90 L99.04,271.64 L98.93,271.39 L98.82,271.13 L98.71,270.88 L98.60,270.62 L98.50,270.37 L98.39,270.11 L98.28,269.86 L98.18,269.60 L98.07,269.35 L97.97,269.09 L97.86,268.84 L97.76,268.58 L97.66,268.33 L97.56,268.07 L97.46,267.82 L97.35,267.56 L97.25,267.31 L97.15,267.05 L97.06,266.80 L96.96,266.54 L96.86,266.29 L96.76,266.03 L96.66,265.78 L96.57,265.52 L96.47,265.27 L96.38,265.01 L96.28,264.76 L96.19,264.50 L96.09,264.25 L96.00,263.99 L95.91,263.73 L95.81,263.48 L95.72,263.22 L95.63,262.97 L95.54,262.71 L95.45,262.46 L95.36,262.20 L95.27,261.95 L95.18,261.69 L95.09,261.44 L95.00,261.18 L94.91,260.93 L94.83,260.67 L94.74,260.42 L94.65,260.16 L94.57,259.91 L94.48,259.65 L94.40,259.40 L94.31,259.14 L94.23,258.89 L94.14,258.63 L94.06,258.38 L93.98,258.12 L93.89,257.87 L93.81,257.61 L93.73,257.36 L93.65,257.10 L93.57,256.85 L93.48,256.59 L93.40,256.34 L93.32,256.08 L93.24,255.83 L93.17,255.57 L93.09,255.32 L93.01,255.06 L92.93,254.81 L92.85,254.55 L92.78,254.30 L92.70,254.04 L92.62,253.79 L92.55,253.53 L92.47,253.28 L92.39,253.02 L92.32,252.77 L92.25,252.51 L91.90,251.30 L91.56,250.10 L91.22,248.89 L90.90,247.68 L90.58,246.48 L90.26,245.27 L89.96,244.07 L89.66,242.86 L89.36,241.65 L89.08,240.45 L88.79,239.24 L88.52,238.03 L88.25,236.83 L87.98,235.62 L87.72,234.42 L87.47,233.21 L87.21,232.00 L86.97,230.80 L86.73,229.59 L86.49,228.38 L86.26,227.18 L86.03,225.97 L85.81,224.76 L85.59,223.56 L85.37,222.35 L85.16,221.15 L84.95,219.94 L84.74,218.73 L84.54,217.53 L84.34,216.32 L84.15,215.11 L83.96,213.91 L83.77,212.70 L83.58,211.50 L83.40,210.29 L83.22,209.08 L83.04,207.88 L82.87,206.67 L82.70,205.46 L82.53,204.26 L82.36,203.05 L82.20,201.85 L82.04,200.64 L81.88,199.43 L81.73,198.23 L81.57,197.02 L81.42,195.81 L81.27,194.61 L81.13,193.40 L80.98,192.19 L80.84,190.99 L80.70,189.78 L80.56,188.58 L80.42,187.37 L80.29,186.16 L80.16,184.96 L80.02,183.75 L79.90,182.54 L79.77,181.34 L79.64,180.13 L79.52,178.93 L79.40,177.72 L79.28,176.51 L79.16,175.31 L79.04,174.10 L78.92,172.89 L78.81,171.69 L78.70,170.48 L78.58,169.27 L78.47,168.07 L78.36,166.86 L78.26,165.66 L78.15,164.45 L78.05,163.24 L77.94,162.04 L77.84,160.83 L77.74,159.62 L77.64,158.42 L77.54,157.21 L77.45,156.01 L77.35,154.80 L77.25,153.59 L77.16,152.39 L77.07,151.18 L76.98,149.97 L76.89,148.77 L76.80,147.56 L76.71,146.36 L76.62,145.15 L76.53,143.94 L76.45,142.74 L76.36,141.53 L76.28,140.32 L76.20,139.12 L76.11,137.91 L76.03,136.70 L75.95,135.50 L75.87,134.29 L75.80,133.09 L75.72,131.88 L75.64,130.67 L75.57,129.47 L75.49,128.26 L75.42,127.05 L75.34,125.85 L75.27,124.64 L75.20,123.44 L75.13,122.23 L75.06,121.02 L74.99,119.82 L74.92,118.61 L74.85,117.40 L74.78,116.20 L74.72,114.99 L74.65,113.78 L74.58,112.58 L74.52,111.37 L74.45,110.17 L74.39,108.96 L74.33,107.75 L74.26,106.55 L74.20,105.34 L74.14,104.13 L74.08,102.93 L74.02,101.72 L73.96,100.52 L73.90,99.31 L73.84,98.10 L73.78,96.90 L73.73,95.69 L73.67,94.48 L73.61,93.28 L73.56,92.07 L73.50,90.87 L73.45,89.66 L73.39,88.45 L73.34,87.25 L73.29,86.04 L73.23,84.83 L73.18,83.63 L73.13,82.42 L73.08,81.21 L73.03,80.01 L72.98,78.80 L72.93,77.60 L72.88,76.39 L72.83,75.18 L72.78,73.98 L72.73,72.77 L72.68,71.56 L72.63,70.36 L72.59,69.15 L72.54,67.95 L72.49,66.74 L72.45,65.53 L72.40,64.33 L72.35,63.12 L72.31,61.91 L72.27,60.71 L72.22,59.50 L72.18,58.29 L72.13,57.09 L72.09,55.88 L72.05,54.68 L72.00,53.47 L71.96,52.26 L71.92,51.06 L71.88,49.85 L71.84,48.64 L71.80,47.44 L71.76,46.23 L71.72,45.03 L71.68,43.82 L71.64,42.61 L71.60,41.41 L71.56,40.20 L71.52,38.99 L71.48,37.79 L71.44,36.58 L71.41,35.38 L71.37,34.17 L71.33,32.96 L71.29,31.76 L71.26,30.55 L71.22,29.34 L71.18,28.14 L71.15,26.93 L71.11,25.72 L71.08,24.52 L71.04,23.31 L71.01,22.11 L70.97,20.90 L70.94,19.69 L70.90,18.49 L70.87,17.28 L70.84,16.07 L70.80,14.87 L70.77,13.66 L70.74,12.46" stroke="#00ff00" stroke-dasharray="10.5 5.06" stroke-dashoffset="0.00"/>
<path d="M60.18,354.37 L61.40,354.30 L65.72,354.04 L70.02,353.79 L74.30,353.53 L78.55,353.28 L82.75,353.02 L86.89,352.77 L90.96,352.51 L94.96,352.26 L98.87,352.00 L102.69,351.75 L106.40,351.49 L110.01,351.24 L113.50,350.98 L116.86,350.73 L120.11,350.47 L123.22,350.22 L126.21,349.96 L129.06,349.71 L131.78,349.45 L134.36,349.20 L136.81,348.94 L139.12,348.69 L141.30,348.43 L143.35,348.18 L145.28,347.92 L147.07,347.67 L148.74,347.41 L150.30,347.16 L151.73,346.90 L153.05,346.65 L154.27,346.39 L155.38,346.14 L156.38,345.88 L157.29,345.63 L158.11,345.37 L158.84,345.12 L159.49,344.86 L160.05,344.61 L160.54,344.35 L160.95,344.10 L161.30,343.84 L161.58,343.59 L161.80,343.33 L161.96,343.08 L162.07,342.82 L162.12,342.56 L162.13,342.31 L162.09,342.05 L162.01,341.80 L161.89,341.54 L161.73,341.29 L161.54,341.03 L161.32,340.78 L161.06,340.52 L160.78,340.27 L160.48,340.01 L160.14,339.76 L159.79,339.50 L159.42,339.25 L159.03,338.99 L158.62,338.74 L158.19,338.48 L157.75,338.23 L157.30,337.97 L156.84,337.72 L156.36,337.46 L155.88,337.21 L155.38,336.95 L154.88,336.70 L154.37,336.44 L153.86,336.19 L153.34,335.93 L152.82,335.68 L152.29,335.42 L151.76,335.17 L151.22,334.91 L150.69,334.66 L150.15,334.40 L149.61,334.15 L149.07,333.89 L148.53,333.64 L147.99,333.38 L147.45,333.13 L146.91,332.87 L146.38,332.62 L145.84,332.36 L145.31,332.11 L144.77,331.85 L144.24,331.59 L143.71,331.34 L143.19,331.08 L142.66,330.83 L142.14,330.57 L141.63,330.32 L141.11,330.06 L140.60,329.81 L140.09,329.55 L139.59,329.30 L139.09,329.04 L138.59,328.79 L138.09,328.53 L137.60,328.28 L137.12,328.02 L136.63,327.77 L136.15,327.51 L135.68,327.26 L135.21,327.00 L134.74,326.75 L134.28,326.49 L133.82,326.24 L133.36,325.98 L132.91,325.73 L132.46,325.47 L132.02,325.22 L131.58,324.96 L131.14,324.71 L130.71,324.45 L130.28,324.20 L129.86,323.94 L129.44,323.69 L129.02,323.43 L128.61,323.18 L128.20,322.92 L127.80,322.67 L127.40,322.41 L127.00,322.16 L126.61,321.90 L126.22,321.65 L125.83,321.39 L125.45,321.14 L125.07,320.88 L124.70,320.63 L124.32,320.37 L123.96,320.11 L123.59,319.86 L123.23,319.60 L122.88,319.35 L122.52,319.09 L122.17,318.84 L121.82,318.58 L121.48,318.33 L121.14,318.07 L120.80,317.82 L120.47,317.56 L120.14,317.31 L119.81,317.05 L119.49,316.80 L119.17,316.54 L118.85,316.29 L118.53,316.03 L118.22,315.78 L117.91,315.52 L117.60,315.27 L117.30,315.01 L117.00,314.76 L116.70,314.50 L116.41,314.25 L116.12,313.99 L115.83,313.74 L115.54,313.48 L115.26,313.23 L114.97,312.97 L114.69,312.72 L114.42,312.46 L114.15,312.21 L113.87,311.95 L113.61,311.70 L113.34,311.44 L113.08,311.19 L112.81,310.93 L112.56,310.68 L112.30,310.42 L112.04,310.17 L111.79,309.91 L111.54,309.66 L111.30,309.40 L111.05,309.15 L110.81,308.89 L110.57,308.63 L110.33,308.38 L110.09,308.12 L109.86,307.87 L109.62,307.61 L109.39,307.36 L109.17,307.10 L108.94,306.85 L108.72,306.59 L108.49,306.34 L108.27,306.08 L108.05,305.83 L107.84,305.57 L107.62,305.32 L107.41,305.06 L107.20,304.81 L106.99,304.55 L106.78,304.30 L106.58,304.04 L106.37,303.79 L106.17,303.53 L105.97,303.28 L105.77,303.02 L105.57,302.77 L105.38,302.51 L105.18,302.26 L104.99,302.00 L104.80,301.75 L104.61,301.49 L104.42,301.24 L104.24,300.98 L104.05,300.73 L103.87,300.47 L103.69,300.22 L103.51,299.96 L103.33,299.71 L103.15,299.45 L102.97,299.20 L102.80,298.94 L102.63,298.69 L102.45,298.43 L102.28,298.18 L102.11,297.92 L101.95,297.66 L101.78,297.41 L101.61,297.15 L101.45,296.90 L101.29,296.64 L101.13,296.39 L100.97,296.13 L100.81,295.88 L100.65,295.62 L100.49,295.37 L100.34,295.11 L100.18,294.86 L100.03,294.60 L99.88,294.35 L99.73,294.09 L99.58,293.84 L99.43,293.58 L99.28,293.33 L99.14,293.07 L98.99,292.82 L98.85,292.56 L98.70,292.31 L98.56,292.05 L98.42,291.80 L98.28,291.54 L98.14,291.29 L98.00,291.03 L97.87,290.78 L97.73,290.52 L97.59,290.27 L97.46,290.01 L97.33,289.76 L97.20,289.50 L97.06,289.25 L96.93,288.99 L96.80,288.74 L96.68,288.48 L96.55,288.23 L96.42,287.97 L96.30,287.72 L96.17,287.46 L96.05,287.21 L95.92,286.95 L95.80,286.70 L95.68,286.44 L95.56,286.18 L95.44,285.93 L95.32,285.67 L95.20,285.42 L95.08,285.16 L94.97,284.91 L94.85,284.65 L94.74,284.40 L94.62,284.14 L94.51,283.89 L94.39,283.63 L94.28,283.38 L94.17,283.12 L94.06,282.87 L93.95,282.61 L93.84,282.36 L93.73,282.10 L93.62,281.85 L93.52,281.59 L93.41,281.34 L93.30,281.08 L93.20,280.83 L93.10,280.57 L92.99,280.32 L92.89,280.06 L92.79,279.81 L92.68,279.55 L92.58,279.30 L92.48,279.04 L92.38,278.79 L92.28,278.53 L92.18,278.28 L92.09,278.02 L91.99,277.77 L91.89,277.51 L91.80,277.26 L91.70,277.00 L91.61,276.75 L91.51,276.49 L91.42,276.24 L91.32,275.98 L91.23,275.73 L91.14,275.47 L91.05,275.22 L90.96,274.96 L90.87,274.70 L90.78,274.45 L90.69,274.19 L90.60,273.94 L90.51,273.68 L90.42,273.43 L90.33,273.17 L90.25,272.92 L90.16,272.66 L90.07,272.41 L89.99,272.15 L89.90,271.90 L89.82,271.64 L89.74,271.39 L89.65,271.13 L89.57,270.88 L89.49,270.62 L89.40,270.37 L89.32,270.11 L89.24,269.86 L89.16,269.60 L89.08,269.35 L89.00,269.09 L88.92,268.84 L88.84,268.58 L88.76,268.33 L88.69,268.07 L88.61,267.82 L88.53,267.56 L88.46,267.31 L88.38,267.05 L88.30,266.80 L88.23,266.54 L88.15,266.29 L88.08,266.03 L88.00,265.78 L87.93,265.52 L87.86,265.27 L87.78,265.01 L87.71,264.76 L87.64,264.50 L87.57,264.25 L87.50,263.99 L87.43,263.73 L87.36,263.48 L87.28,263.22 L87.21,262.97 L87.15,262.71 L87.08,262.46 L87.01,262.20 L86.94,261.95 L86.87,261.69 L86.80,261.44 L86.74,261.18 L86.67,260.93 L86.60,260.67 L86.54,260.42 L86.47,260.16 L86.40,259.91 L86.34,259.65 L86.27,259.40 L86.21,259.14 L86.15,258.89 L86.08,258.63 L86.02,258.38 L85.95,258.12 L85.89,257.87 L85.83,257.61 L85.77,257.36 L85.70,257.10 L85.64,256.85 L85.58,256.59 L85.52,256.34 L85.46,256.08 L85.40,255.83 L85.34,255.57 L85.28,255.32 L85.22,255.06 L85.16,254.81 L85.10,254.55 L85.04,254.30 L84.98,254.04 L84.92,253.79 L84.87,253.53 L84.81,253.28 L84.75,253.02 L84.69,252.77 L84.64,252.51 L84.37,251.30 L84.11,250.10 L83.86,248.89 L83.61,247.68 L83.37,246.48 L83.13,245.27 L82.90,244.07 L82.67,242.86 L82.45,241.65 L82.23,240.45 L82.02,239.24 L81.81,238.03 L81.60,236.83 L81.40,235.62 L81.21,234.42 L81.01,233.21 L80.82,232.00 L80.64,230.80 L80.45,229.59 L80.27,228.38 L80.10,227.18 L79.92,225.97 L79.76,224.76 L79.59,223.56 L79.43,222.35 L79.26,221.15 L79.11,219.94 L78.95,218.73 L78.80,217.53 L78.65,216.32 L78.50,215.11 L78.36,213.91 L78.21,212.70 L78.07,211.50 L77.94,210.29 L77.80,209.08 L77.67,207.88 L77.54,206.67 L77.41,205.46 L77.28,204.26 L77.16,203.05 L77.03,201.85 L76.91,200.64 L76.79,199.43 L76.67,198.23 L76.56,197.02 L76.44,195.81 L76.33,194.61 L76.22,193.40 L76.11,192.19 L76.00,190.99 L75.90,189.78 L75.79,188.58 L75.69,187.37 L75.59,186.16 L75.49,184.96 L75.39,183.75 L75.29,182.54 L75.20,181.34 L75.10,180.13 L75.01,178.93 L74.92,177.72 L74.83,176.51 L74.74,175.31 L74.65,174.10 L74.56,172.89 L74.47,171.69 L74.39,170.48 L74.31,169.27 L74.22,168.07 L74.14,166.86 L74.06,165.66 L73.98,164.45 L73.90,163.24 L73.82,162.04 L73.75,160.83 L73.67,159.62 L73.60,158.42 L73.52,157.21 L73.45,156.01 L73.38,154.80 L73.30,153.59 L73.23,152.39 L73.16,151.18 L73.10,149.97 L73.03,148.77 L72.96,147.56 L72.89,146.36 L72.83,145.15 L72.76,143.94 L72.70,142.74 L72.63,141.53 L72.57,140.32 L72.51,139.12 L72.45,137.91 L72.39,136.70 L72.33,135.50 L72.27,134.29 L72.21,133.09 L72.15,131.88 L72.09,130.67 L72.03,129.47 L71.98,128.26 L71.92,127.05 L71.87,125.85 L71.81,124.64 L71.76,123.44 L71.70,122.23 L71.65,121.02 L71.60,119.82 L71.55,118.61 L71.50,117.40 L71.45,116.20 L71.39,114.99 L71.34,113.78 L71.30,112.58 L71.25,111.37 L71.20,110.17 L71.15,108.96 L71.10,107.75 L71.06,106.55 L71.01,105.34 L70.96,104.13 L70.92,102.93 L70.87,101.72 L70.83,100.52 L70.78,99.31 L70.74,98.10 L70.70,96.90 L70.65,95.69 L70.61,94.48 L70.57,93.28 L70.52,92.07 L70.48,90.87 L70.44,89.66 L70.40,88.45 L70.36,87.25 L70.32,86.04 L70.28,84.83 L70.24,83.63 L70.20,82.42 L70.16,81.21 L70.13,80.01 L70.09,78.80 L70.05,77.60 L70.01,76.39 L69.97,75.18 L69.94,73.98 L69.90,72.77 L69.87,71.56 L69.83,70.36 L69.79,69.15 L69.76,67.95 L69.72,66.74 L69.69,65.53 L69.65,64.33 L69.62,63.12 L69.59,61.91 L69.55,60.71 L69.52,59.50 L69.49,58.29 L69.45,57.09 L69.42,55.88 L69.39,54.68 L69.36,53.47 L69.33,52.26 L69.29,51.06 L69.26,49.85 L69.23,48.64 L69.20,47.44 L69.17,46.23 L69.14,45.03 L69.11,43.82 L69.08,42.61 L69.05,41.41 L69.02,40.20 L68.99,38.99 L68.96,37.79 L68.94,36.58 L68.91,35.38 L68.88,34.17 L68.85,32.96 L68.82,31.76 L68.80,30.55 L68.77,29.34 L68.74,28.14 L68.71,26.93 L68.69,25.72 L68.66,24.52 L68.63,23.31 L68.61,22.11 L68.58,20.90 L68.56,19.69 L68.53,18.49 L68.51,17.28 L68.48,16.07 L68.46,14.87 L68.43,13.66 L68.41,12.46" stroke="#ff8000" stroke-dasharray="4.86 4.86" stroke-dashoffset="0.00"/>
</g>
<path d="M61.4 15.0H739.8V354.3H61.4ZM61.40 354.3v-7.5M61.40 15.0v7.5M84.01 354.3v-4.4M84.01 15.0v4.4M106.63 354.3v-4.4M106.63 15.0v4.4M129.24 354.3v-4.4M129.24 15.0v4.4M151.85 354.3v-4.4M151.85 15.0v4.4M174.47 354.3v-7.5M174.47 15.0v7.5M197.08 354.3v-4.4M197.08 15.0v4.4M219.69 354.3v-4.4M219.69 15.0v4.4M242.31 354.3v-4.4M242.31 15.0v4.4M264.92 354.3v-4.4M264.92 15.0v4.4M287.53 354.3v-7.5M287.53 15.0v7.5M310.15 354.3v-4.4M310.15 15.0v4.4M332.76 354.3v-4.4M332.76 15.0v4.4M355.37 354.3v-4.4M355.37 15.0v4.4M377.99 354.3v-4.4M377.99 15.0v4.4M400.60 354.3v-7.5M400.60 15.0v7.5M423.21 354.3v-4.4M423.21 15.0v4.4M445.83 354.3v-4.4M445.83 15.0v4.4M468.44 354.3v-4.4M468.44 15.0v4.4M491.05 354.3v-4.4M491.05 15.0v4.4M513.67 354.3v-7.5M513.67 15.0v7.5M536.28 354.3v-4.4M536.28 15.0v4.4M558.89 354.3v-4.4M558.89 15.0v4.4M581.51 354.3v-4.4M581.51 15.0v4.4M604.12 354.3v-4.4M604.12 15.0v4.4M626.73 354.3v-7.5M626.73 15.0v7.5M649.35 354.3v-4.4M649.35 15.0v4.4M671.96 354.3v-4.4M671.96 15.0v4.4M694.57 354.3v-4.4M694.57 15.0v4.4M717.19 354.3v-4.4M717.19 15.0v4.4M739.80 354.3v-7.5M739.80 15.0v7.5M61.4 354.30h7.5M739.8 354.30h-7.5M61.4 337.34h4.4M739.8 337.34h-4.4M61.4 320.37h4.4M739.8 320.37h-4.4M61.4 303.40h4.4M739.8 303.40h-4.4M61.4 286.44h4.4M739.8 286.44h-4.4M61.4 269.48h7.5M739.8 269.48h-7.5M61.4 252.51h4.4M739.8 252.51h-4.4M61.4 235.55h4.4M739.8 235.55h-4.4M61.4 218.58h4.4M739.8 218.58h-4.4M61.4 201.62h4.4M739.8 201.62h-4.4M61.4 184.65h7.5M739.8 184.65h-7.5M61.4 167.69h4.4M739.8 167.69h-4.4M61.4 150.72h4.4M739.8 150.72h-4.4M61.4 133.75h4.4M739.8 133.75h-4.4M61.4 116.79h4.4M739.8 116.79h-4.4M61.4 99.82h7.5M739.8 99.82h-7.5M61.4 82.86h4.4M739.8 82.86h-4.4M61.4 65.89h4.4M739.8 65.89h-4.4M61.4 48.93h4.4M739.8 48.93h-4.4M61.4 31.96h4.4M739.8 31.96h-4.4M61.4 15.00h7.5M739.8 15.00h-7.5" stroke="#666666" stroke-width="1.1" fill="none"/>
<text x="61.4" y="384.2" font-size="23" text-anchor="middle">0</text>
<path transform="translate(167.91,384.20) scale(0.01123,-0.01162)" d="M805 0H524V1059Q370 915 161 846V1101Q271 1137 400 1237.5T577 1472H805Z" fill="#000"/>
<text x="287.5" y="384.2" font-size="23" text-anchor="middle">2</text>
<text x="400.6" y="384.2" font-size="23" text-anchor="middle">3</text>
<text x="513.7" y="384.2" font-size="23" text-anchor="middle">4</text>
<text x="626.7" y="384.2" font-size="23" text-anchor="middle">5</text>
<text x="739.8" y="384.2" font-size="23" text-anchor="middle">6</text>
<text x="55.2" y="363.25" font-size="23" text-anchor="end">0</text>
<path transform="translate(42.76,278.18) scale(0.01123,-0.01162)" d="M805 0H524V1059Q370 915 161 846V1101Q271 1137 400 1237.5T577 1472H805Z" fill="#000"/>
<text x="55.2" y="193.60" font-size="23" text-anchor="end">2</text>
<text x="55.2" y="108.77" font-size="23" text-anchor="end">3</text>
<text x="55.2" y="23.95" font-size="23" text-anchor="end">4</text>
<text transform="translate(400.7,426.9) scale(0.93,1)" font-size="22" font-style="italic" text-anchor="middle">τ</text>
<text transform="translate(24.0,193.4) rotate(-90) scale(1.16,1)" font-size="21.5" font-style="italic">r</text>
<path d="M20.45 180.4H28.15M24.3 176.55V184.25" stroke="#000" stroke-width="1.9" fill="none"/>
<path d="M548 63.2H626.0" stroke="#808080" stroke-width="3.2" fill="none"/>
<text x="637.7" y="70.5" font-size="23">P</text>
<path d="M654.2 61.38h10.3v2.35h-10.3zM654.2 66.23h10.3v2.35h-10.3z" fill="#000"/>
<text x="665.60" y="70.5" font-size="23" letter-spacing="0.2">0.08</text>
<path d="M548 105.6H626.0" stroke="#ff0000" stroke-width="3.2" fill="none"/>
<text x="637.7" y="112.9" font-size="23">P</text>
<path d="M654.2 103.77h10.3v2.35h-10.3zM654.2 108.62h10.3v2.35h-10.3z" fill="#000"/>
<text x="665.60" y="112.9" font-size="23" letter-spacing="0.2">0.5</text>
<path d="M548 148.0H625.5" stroke="#0000ff" stroke-width="3.2" fill="none" stroke-dasharray="10.5 5.06"/>
<text x="637.7" y="155.3" font-size="23">P</text>
<path d="M654.2 146.18h10.3v2.35h-10.3zM654.2 151.03h10.3v2.35h-10.3z" fill="#000"/>
<path transform="translate(665.66,155.30) scale(0.01123,-0.01162)" d="M805 0H524V1059Q370 915 161 846V1101Q271 1137 400 1237.5T577 1472H805Z" fill="#000"/>
<path d="M548 190.2H625.5" stroke="#00ff00" stroke-width="3.2" fill="none" stroke-dasharray="10.5 5.06"/>
<text x="637.7" y="197.5" font-size="23">P</text>
<path d="M654.2 188.38h10.3v2.35h-10.3zM654.2 193.22h10.3v2.35h-10.3z" fill="#000"/>
<path transform="translate(665.66,197.50) scale(0.01123,-0.01162)" d="M805 0H524V1059Q370 915 161 846V1101Q271 1137 400 1237.5T577 1472H805Z" fill="#000"/>
<text x="678.59" y="197.5" font-size="23" letter-spacing="0.2">.5</text>
<path d="M548 232.6H625.5" stroke="#ff8000" stroke-width="3.2" fill="none" stroke-dasharray="4.86 4.86"/>
<text x="637.7" y="239.9" font-size="23">P</text>
<path d="M654.2 230.78h10.3v2.35h-10.3zM654.2 235.62h10.3v2.35h-10.3z" fill="#000"/>
<text x="665.60" y="239.9" font-size="23" letter-spacing="0.2">2</text>
</svg></body></html>
